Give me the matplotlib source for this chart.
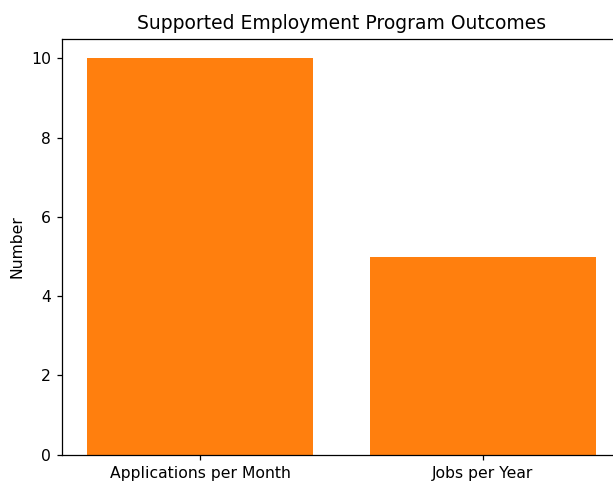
import matplotlib
matplotlib.use("Agg")
import matplotlib.pyplot as plt

# chart data
categories = ['Applications per Month', 'Jobs per Year']
values = [10, 5]

# reference looks rendered at ~112.5 dpi and cropped on the right
DPI = 112.5
fig = plt.figure(figsize=(613 / DPI, 482 / DPI), dpi=DPI)
ax = fig.add_axes([62 / 613, 27.3 / 482, 559 / 613, 416.2 / 482])

ax.bar(categories, values, color='#ff7f0e')
ax.set_title('Supported Employment Program Outcomes')
ax.set_ylabel('Number')

fig.savefig('out.png', dpi=DPI)
plt.close(fig)
